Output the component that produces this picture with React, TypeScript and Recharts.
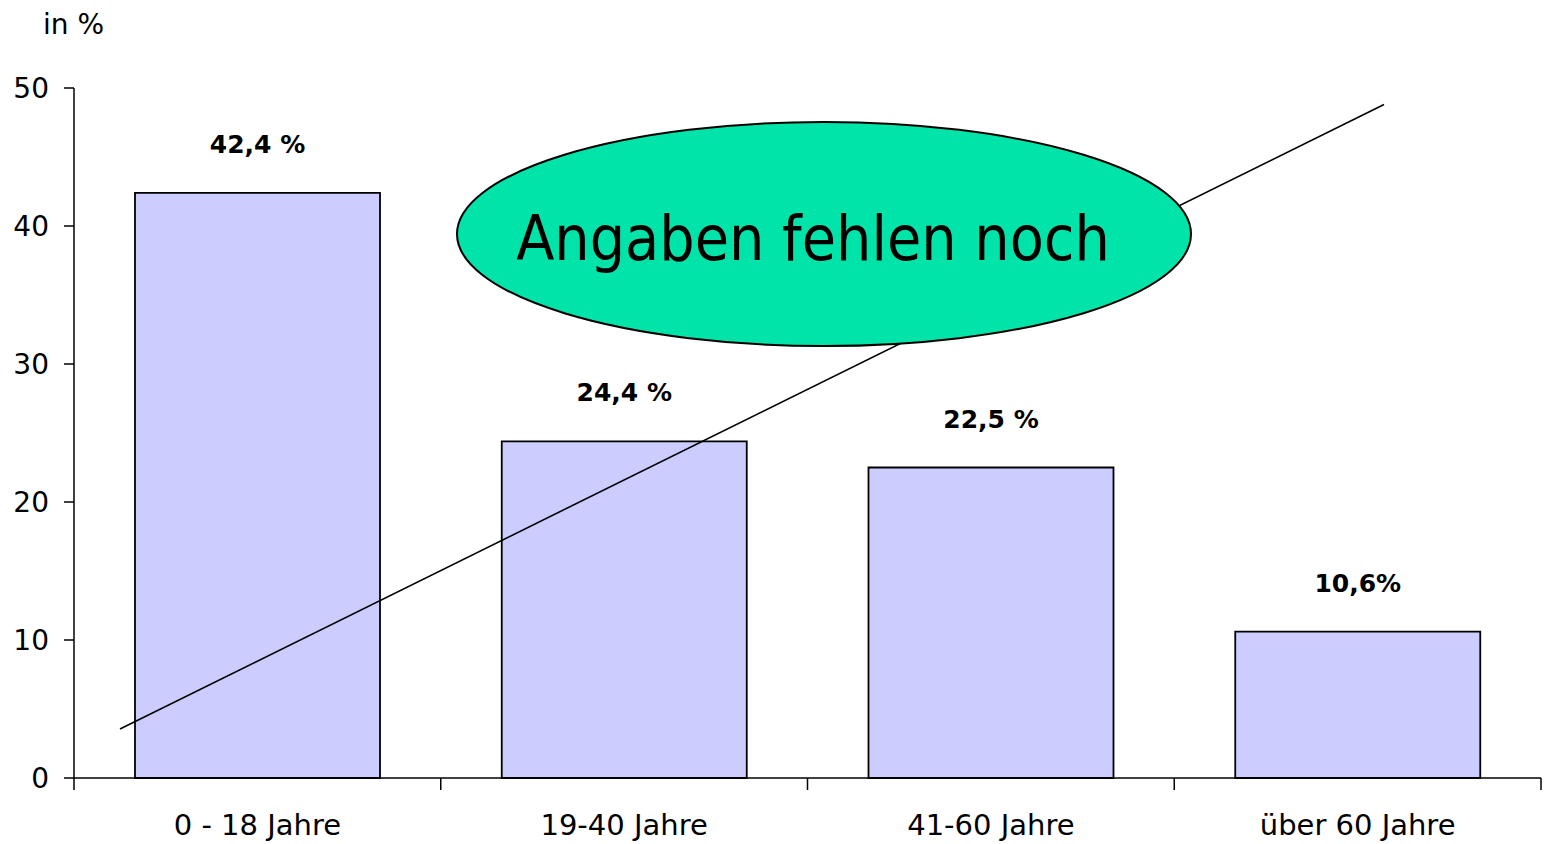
import React from 'react';
import { BarChart, Bar, XAxis, YAxis, LabelList } from 'recharts';

const categories = ['0 - 18 Jahre', '19-40 Jahre', '41-60 Jahre', 'über 60 Jahre'];
const shares = [42.4, 24.4, 22.5, 10.6];
const shareLabels = ['42,4 %', '24,4 %', '22,5 %', '10,6%'];
const yTicks = [0, 10, 20, 30, 40, 50];

const data = categories.map((c, i) => ({ name: c, value: shares[i], label: shareLabels[i] }));

const W = 1544;
const H = 844;
const PLOT_LEFT = 74;
const PLOT_RIGHT = 1541;
const PLOT_TOP = 88;
const PLOT_BOTTOM = 778;
const BAND = (PLOT_RIGHT - PLOT_LEFT) / categories.length;
const FONT = '"DejaVu Sans", sans-serif';

const yPx = (v: number) => PLOT_BOTTOM - (v / 50) * (PLOT_BOTTOM - PLOT_TOP);

const CategoryTick = (props: any) => {
  const { x, y, payload, index } = props;
  const left = x - BAND / 2;
  const right = x + BAND / 2;
  return (
    <g>
      <line x1={left} y1={y - 12} x2={left} y2={y} stroke="#000" strokeWidth={1.5} />
      {index === categories.length - 1 && (
        <line x1={right} y1={y - 12} x2={right} y2={y} stroke="#000" strokeWidth={1.5} />
      )}
      <text x={x} y={y + 45} textAnchor="middle" fontSize={29} fontFamily={FONT} fill="#000">
        {payload.value}
      </text>
    </g>
  );
};

// annotation on top of the bars: diagonal line, ellipse, unit label
const Overlay = () => (
  <svg
    width={W}
    height={H}
    style={{ position: 'absolute', left: 0, top: 0, pointerEvents: 'none' }}
  >
    <text x={43} y={34} fontSize={28} fontFamily={FONT} fill="#000">in %</text>
    <line x1={120} y1={yPx(3.55)} x2={1384} y2={yPx(48.8)} stroke="#000" strokeWidth={1.6} />
    <ellipse cx={824} cy={234} rx={367} ry={112} fill="#00E4AA" stroke="#000" strokeWidth={2} />
    <text
      x={813}
      y={260}
      textAnchor="middle"
      fontSize={62}
      fontFamily='"DejaVu Sans Condensed", "DejaVu Sans", sans-serif'
      fill="#000"
    >
      Angaben fehlen noch
    </text>
  </svg>
);

export default function App() {
  return (
    <div style={{ position: 'absolute', left: 0, top: 0, width: W, height: H, background: '#fff' }}>
      <BarChart
        width={W}
        height={H}
        data={data}
        margin={{ top: PLOT_TOP, right: W - PLOT_RIGHT, left: 0, bottom: 0 }}
      >
        <XAxis
          dataKey="name"
          height={H - PLOT_BOTTOM}
          axisLine={{ stroke: '#000', strokeWidth: 1.5 }}
          tickLine={false}
          tickSize={12}
          tickMargin={0}
          tick={<CategoryTick />}
          interval={0}
        />
        <YAxis
          width={PLOT_LEFT}
          domain={[0, 50]}
          ticks={yTicks}
          interval={0}
          axisLine={{ stroke: '#000', strokeWidth: 1.5 }}
          tickLine={{ stroke: '#000', strokeWidth: 1.5 }}
          tickSize={10}
          tickMargin={15}
          tick={{ fontSize: 28, fontFamily: FONT, fill: '#000' }}
        />
        <Bar dataKey="value" fill="#CCCCFF" stroke="#000" strokeWidth={1.8} barSize={245} isAnimationActive={false}>
          <LabelList
            dataKey="label"
            position="top"
            offset={40}
            style={{ fontSize: 25, fontWeight: 'bold', fontFamily: FONT, fill: '#000' }}
          />
        </Bar>
      </BarChart>
      <Overlay />
    </div>
  );
}
